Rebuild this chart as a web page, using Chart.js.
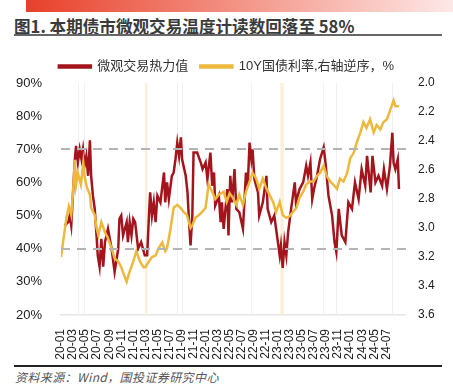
<!DOCTYPE html>
<html>
<head>
<meta charset="utf-8">
<script src="https://cdn.jsdelivr.net/npm/chart.js@4.4.0/dist/chart.umd.min.js"></script>
<style>
body { margin: 0; width: 453px; height: 392px; background: #fff; position: relative; overflow: hidden; }
#topbar { position: absolute; left: 26px; top: 0; width: 427px; height: 12px; background: linear-gradient(to right, #e8402a, #f5a59a 60%, #fde8e8); }
#title { position: absolute; left: 14px; top: 14px; font: bold 16.6px "Noto Sans CJK SC", sans-serif; color: #3a3a3a; white-space: nowrap; }
#titleline { position: absolute; left: 14px; top: 34px; width: 428px; height: 2px; background: #666; }
#wrap { position: absolute; left: 0; top: 48px; width: 453px; height: 316px; }
#footline { position: absolute; left: 14px; top: 365px; width: 428px; height: 1.5px; background: #222; }
#source { position: absolute; left: 15px; top: 368px; font: italic 12px "Noto Sans CJK SC", sans-serif; color: #555; letter-spacing: 0.4px; white-space: nowrap; }
</style>
</head>
<body>
<div id="topbar"></div>
<div id="title">图1. 本期债市微观交易温度计读数回落至 58%</div>
<div id="titleline"></div>
<div id="wrap"><canvas id="myChart"></canvas></div>
<div id="footline"></div>
<div id="source">资料来源：Wind，国投证券研究中心</div>
<script>
// x positions are months counted from 2020-01
var tickLabels = ['20-01','20-03','20-05','20-07','20-09','20-11',
    '21-01','21-03','21-05','21-07','21-09','21-11',
    '22-01','22-03','22-05','22-07','22-09','22-11',
    '23-01','23-03','23-05','23-07','23-09','23-11',
    '24-01','24-03','24-05','24-07'];

// 微观交易热力值 (%)
var heatMonths = [0.6,1.2,1.45,1.7,2.0,2.3,2.5,2.8,3.1,3.4,3.65,3.9,4.2,4.5,4.8,5.0,5.3,5.6,5.9,6.1,
    6.4,6.7,7.0,7.3,7.8,8.4,8.9,9.5,9.7,10.0,10.3,10.9,11.1,11.4,11.7,12.0,12.3,12.8,13.3,13.9,
    14.3,14.6,14.8,15.1,15.4,15.7,16.0,16.5,17.1,17.3,17.6,17.9,18.4,18.7,19.0,19.3,19.6,19.9,20.1,20.7,
    21.0,21.2,21.5,21.8,22.0,22.6,23.2,23.5,24.0,24.3,24.8,25.1,25.4,25.6,26.2,26.5,26.7,27.0,27.3,27.6,
    27.8,28.1,28.4,28.8,29.1,29.6,30.2,30.5,30.7,31.0,31.3,31.6,31.8,32.1,32.7,32.9,33.5,34.1,34.3,34.9,
    35.4,36.0,36.3,36.5,36.8,37.1,37.4,37.7,38.2,38.8,39.0,39.6,40.2,40.7,41.0,41.4,41.7,42.0,42.5,43.0,
    43.6,43.9,44.4,45.0,45.4,45.7,46.1,46.6,47.2,47.7,48.3,48.8,49.4,49.9,50.5,50.8,51.4,51.7,52.2,52.7,
    53.3,53.6,54.1,54.6,55.0,55.2,55.5,55.9,56.1];
var heatValues = [47,48,50,47,57,67,71,66,70,67,70,65,68,62,72.7,62,56,52,44,38,
    34.6,43,34.6,42,46,40,33,40,49,50,44,48,42,48,44,49,48,40,42,38,
    38,50,57,50,54,48,56,54,63,54,60,55,62,63,67,72,68,73.6,67,62,
    57,50,41,50,69,69,66,64,66,61,69,59,63,53,56,48,54,46,52,58,
    44,62,54,64,52,51,46,56,63,59,72,67,70,61,57,50,54,62,52,48,
    50,42,38,41,34.2,42,38,45,52,60,54,58,60,65,62,66,55,58,62,67,
    70.6,66,56,50,42,39,52,44,42,54,52,60,55,64,59,68,57,68,60,62,
    59,64,58,65,75,66,64,67,58];

// 10Y国债利率 (%), right axis reversed
var yieldMonths = [0,0.6,0.9,1.3,1.7,2.0,2.3,2.5,2.8,3.3,3.7,3.9,4.3,4.8,5.0,5.6,5.9,6.2,6.7,7.3,
    7.8,8.4,8.9,9.5,10.0,10.6,10.9,11.4,12.0,12.5,13.1,13.7,14.0,14.6,15.1,15.7,16.2,16.8,17.3,17.6,
    18.2,18.7,19.3,19.8,20.4,20.9,21.5,21.8,22.3,22.9,23.4,24.0,24.5,25.1,25.6,26.2,27.0,27.5,28.0,28.5,
    29.1,29.6,30.2,30.7,31.3,31.8,32.4,32.9,33.5,34.1,34.6,35.2,35.7,36.3,36.8,37.4,37.9,38.5,39.1,39.6,
    40.2,40.7,41.3,41.9,42.5,43.0,43.6,44.1,44.7,45.2,45.8,46.3,46.9,47.5,48.0,48.6,49.1,49.7,50.2,50.7,
    51.3,51.9,52.4,53.0,53.5,54.1,54.7,55.2,55.5,56.1];
var yieldValues = [3.20,3.02,2.93,2.85,2.91,2.75,2.53,2.70,2.62,2.70,2.55,2.64,2.72,2.77,2.86,2.91,3.00,3.05,2.96,3.03,
    3.07,3.14,3.21,3.23,3.27,3.34,3.37,3.30,3.23,3.16,3.23,3.27,3.27,3.23,3.20,3.19,3.14,3.10,3.16,3.14,
    3.00,2.86,2.84,2.86,2.89,2.91,3.00,2.98,2.93,2.91,2.89,2.86,2.70,2.75,2.80,2.77,2.75,2.82,2.76,2.79,
    2.84,2.77,2.84,2.75,2.68,2.62,2.66,2.73,2.66,2.73,2.77,2.82,2.89,2.82,2.91,2.93,2.92,2.89,2.86,2.79,
    2.75,2.70,2.68,2.68,2.64,2.62,2.57,2.64,2.68,2.70,2.73,2.66,2.68,2.62,2.52,2.48,2.41,2.34,2.27,2.31,
    2.25,2.34,2.29,2.32,2.27,2.25,2.18,2.12,2.16,2.16];

// faint vertical markers and shaded bands (months)
var markerMonths = [2.8, 3.8, 19.3, 20.1, 31.6, 43.5, 45.7, 55.0];
var bandRanges = [[13.95, 14.35], [36.4, 37.0]];
var dashLevels = [70, 40];

function toPoints(xs, ys) {
    return xs.map(function (m, i) { return { x: m, y: ys[i] }; });
}

var markers = {
    id: 'markers',
    beforeDatasetsDraw: function (chart) {
        var c = chart.ctx, xs = chart.scales.x, area = chart.chartArea;
        c.save();
        bandRanges.forEach(function (r) {
            var a = xs.getPixelForValue(r[0]), b = xs.getPixelForValue(r[1]);
            c.fillStyle = 'rgba(251,236,210,0.8)';
            c.fillRect(a, area.top, b - a, area.bottom - area.top);
        });
        c.strokeStyle = '#f0f0f0';
        c.lineWidth = 1;
        markerMonths.forEach(function (m) {
            var px = Math.round(xs.getPixelForValue(m)) + 0.5;
            c.beginPath();
            c.moveTo(px, area.top);
            c.lineTo(px, area.bottom);
            c.stroke();
        });
        c.restore();
    },
    afterDatasetsDraw: function (chart) {
        var c = chart.ctx, ys = chart.scales.y, area = chart.chartArea;
        c.save();
        c.strokeStyle = '#b4b4b4';
        c.lineWidth = 2;
        c.setLineDash([9, 7]);
        dashLevels.forEach(function (v) {
            var py = Math.round(ys.getPixelForValue(v));
            c.beginPath();
            c.moveTo(area.left, py);
            c.lineTo(area.right + 4, py);
            c.stroke();
        });
        c.restore();
    }
};

const ctx = document.getElementById('myChart');
const myChart = new Chart(ctx, {
    type: 'line',
    data: {
        datasets: [{
            label: '微观交易热力值',
            data: toPoints(heatMonths, heatValues),
            borderColor: '#a3141c',
            backgroundColor: '#a3141c',
            borderWidth: 2.5,
            pointRadius: 0,
            tension: 0,
            yAxisID: 'y',
            order: 2
        }, {
            label: '10Y国债利率,右轴逆序，%',
            data: toPoints(yieldMonths, yieldValues),
            borderColor: '#edb83d',
            backgroundColor: '#edb83d',
            borderWidth: 2.5,
            pointRadius: 0,
            tension: 0,
            yAxisID: 'y1',
            order: 1
        }]
    },
    options: {
        responsive: true,
        maintainAspectRatio: false,
        animation: false,
        layout: { padding: { top: 0, bottom: 0, left: 0, right: 0 } },
        plugins: {
            tooltip: { enabled: false },
            legend: {
                position: 'top',
                labels: {
                    boxWidth: 32,
                    boxHeight: 2,
                    padding: 12,
                    color: '#333',
                    font: { family: "'Liberation Sans', 'Noto Sans CJK SC'", size: 13 },
                    sort: function (a, b) { return a.datasetIndex - b.datasetIndex; }
                }
            }
        },
        scales: {
            x: {
                type: 'linear',
                min: 0,
                max: 57.1,
                afterBuildTicks: function (axis) {
                    axis.ticks = tickLabels.map(function (t, i) { return { value: i * 2 }; });
                },
                afterFit: function (axis) { axis.height = 49; },
                grid: { display: false },
                border: { display: true, color: '#e6e6e6', width: 1.5 },
                ticks: {
                    autoSkip: false,
                    minRotation: 90,
                    maxRotation: 90,
                    padding: 6,
                    color: '#222',
                    font: { family: "'Liberation Sans'", size: 12 },
                    callback: function (v) { return tickLabels[Math.round(v / 2)]; }
                }
            },
            y: {
                position: 'left',
                min: 20,
                max: 90,
                afterFit: function (axis) { axis.width = 61; },
                grid: { display: false },
                border: { display: false },
                ticks: {
                    stepSize: 10,
                    padding: 11,
                    color: '#222',
                    font: { family: "'Liberation Sans'", size: 13 },
                    callback: function (v) { return v + '%'; }
                }
            },
            y1: {
                position: 'right',
                reverse: true,
                min: 2.0,
                max: 3.6,
                afterFit: function (axis) { axis.width = 48; },
                grid: { display: false },
                border: { display: false },
                ticks: {
                    stepSize: 0.2,
                    padding: 5,
                    color: '#222',
                    font: { family: "'Liberation Sans'", size: 12 },
                    callback: function (v) { return v.toFixed(1); }
                }
            }
        }
    },
    plugins: [markers]
});
</script>
</body>
</html>
